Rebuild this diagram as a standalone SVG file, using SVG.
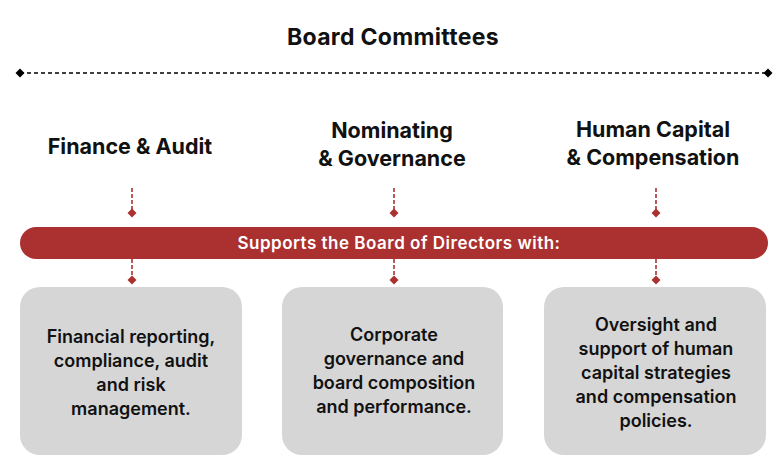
<svg xmlns="http://www.w3.org/2000/svg" width="784" height="472" viewBox="0 0 784 472">
<style>
.h{font-family:Inter,"Noto Sans",sans-serif;font-weight:700;font-size:21.5px;fill:#111;text-anchor:middle}
.t{font-family:Inter,"Noto Sans",sans-serif;font-weight:700;font-size:23px;letter-spacing:0.3px;fill:#111;text-anchor:middle}
.b{font-family:Inter,"Noto Sans",sans-serif;font-weight:600;font-size:18px;fill:#111;text-anchor:middle}
.bar{font-family:Inter,"Noto Sans",sans-serif;font-weight:600;font-size:17px;letter-spacing:0.5px;fill:#fff;text-anchor:middle}
.box{fill:#d6d6d6}
.con{stroke:#ab3131;stroke-width:1.6;stroke-dasharray:4 2;fill:none}
</style>
<defs>
<marker id="dr" viewBox="-5 -5 10 10" markerWidth="10" markerHeight="10" markerUnits="userSpaceOnUse" refX="0" refY="0"><path d="M0-4.5L4.5 0L0 4.5L-4.5 0Z" fill="#ab3131"/></marker>
<marker id="dk" viewBox="-5 -5 10 10" markerWidth="10" markerHeight="10" markerUnits="userSpaceOnUse" refX="0" refY="0"><path d="M0-4.5L4.5 0L0 4.5L-4.5 0Z" fill="#000"/></marker>
</defs>
<rect width="784" height="472" fill="#fff"/>
<g id="title">
<text class="t" x="393" y="45">Board Committees</text>
<line x1="20" y1="73" x2="768" y2="73" stroke="#000" stroke-width="1.5" stroke-dasharray="4 3" marker-start="url(#dk)" marker-end="url(#dk)"/>
</g>
<g id="connectors">
<line class="con" x1="132" y1="188" x2="132" y2="213" marker-end="url(#dr)"/>
<line class="con" x1="394" y1="188" x2="394" y2="213" marker-end="url(#dr)"/>
<line class="con" x1="656" y1="188" x2="656" y2="213" marker-end="url(#dr)"/>
<line class="con" x1="132" y1="259" x2="132" y2="280" marker-end="url(#dr)"/>
<line class="con" x1="394" y1="259" x2="394" y2="280" marker-end="url(#dr)"/>
<line class="con" x1="656" y1="259" x2="656" y2="280" marker-end="url(#dr)"/>
</g>
<g id="head-finance"><text class="h" x="130" y="154">Finance &amp; Audit</text></g>
<g id="head-nominating"><text class="h" x="392" y="138">Nominating</text><text class="h" x="392" y="166">&amp; Governance</text></g>
<g id="head-human"><text class="h" x="653" y="137">Human Capital</text><text class="h" x="653" y="165">&amp; Compensation</text></g>
<g id="bar">
<rect x="20" y="227" width="748" height="32" rx="16" fill="#ab3131"/>
<text class="bar" x="399" y="249">Supports the Board of Directors with:</text>
</g>
<g id="box-finance">
<rect class="box" x="20" y="287" width="222" height="168" rx="20"/>
<text class="b" x="131" y="343">Financial reporting,</text>
<text class="b" x="131" y="367">compliance, audit</text>
<text class="b" x="131" y="391">and risk</text>
<text class="b" x="131" y="415">management.</text>
</g>
<g id="box-nominating">
<rect class="box" x="282" y="287" width="221" height="168" rx="20"/>
<text class="b" x="394" y="341">Corporate</text>
<text class="b" x="394" y="365">governance and</text>
<text class="b" x="394" y="389">board composition</text>
<text class="b" x="394" y="413">and performance.</text>
</g>
<g id="box-human">
<rect class="box" x="544" y="287" width="222" height="168" rx="20"/>
<text class="b" x="656" y="331">Oversight and</text>
<text class="b" x="656" y="355">support of human</text>
<text class="b" x="656" y="379">capital strategies</text>
<text class="b" x="656" y="403">and compensation</text>
<text class="b" x="656" y="427">policies.</text>
</g>
</svg>
